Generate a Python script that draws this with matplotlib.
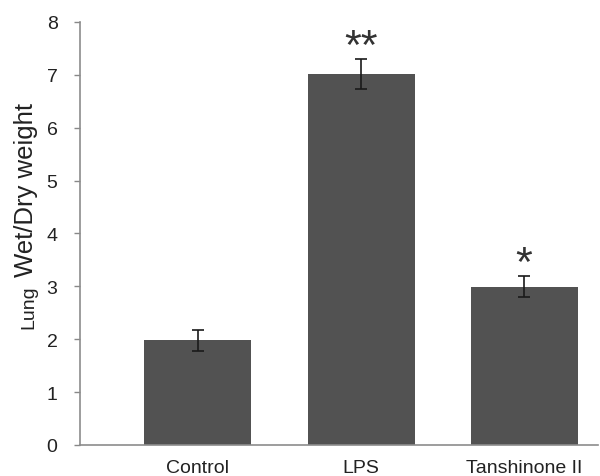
import matplotlib
matplotlib.use('Agg')
import matplotlib.pyplot as plt
import numpy as np

groups = ['Control', 'LPS', 'Tanshinone II']
values = [1.98, 7.01, 2.99]
errors = [0.20, 0.28, 0.20]
marks = ['', '**', '*']

plt.rcParams['font.family'] = ['Liberation Sans', 'DejaVu Sans']

fig = plt.figure(figsize=(6, 4.77), dpi=100)
ax = fig.add_axes([0.133, 0.065, 0.864, 0.887])

x = np.arange(len(groups))
ax.bar(x, values, width=0.656, color='#525252', zorder=2)
ax.errorbar(x, values, yerr=errors, fmt='none', ecolor='#1a1a1a',
            elinewidth=1.2, capsize=4.3, capthick=1.2, zorder=3)

# significance stars above the bars
for xi, v, e, m in zip(x, values, errors, marks):
    if m:
        ax.text(xi, v + e - 0.15, m, ha='center', va='bottom',
                fontsize=31, color='#333333')

ax.set_xlim(-0.724, 2.454)
ax.set_ylim(0, 8)
ax.set_yticks(range(0, 9))
ax.set_xticks(x)
ax.set_xticklabels(groups, fontsize=14)
ax.tick_params(axis='y', labelsize=14, length=4, width=1, color='#888888',
               labelcolor='#222222', pad=12)
ax.tick_params(axis='x', length=0, pad=10, labelcolor='#222222')

for s in ['top', 'right']:
    ax.spines[s].set_visible(False)
for s in ['left', 'bottom']:
    ax.spines[s].set_color('#8c8c8c')
    ax.spines[s].set_linewidth(1.2)

# two-size y label
fig.text(0.055, 0.356, 'Lung', rotation=90, rotation_mode='anchor',
         ha='center', va='baseline', fontsize=14, color='#222222')
fig.text(0.055, 0.602, 'Wet/Dry weight', rotation=90, rotation_mode='anchor',
         ha='center', va='baseline', fontsize=18.5, color='#222222')

fig.savefig('out.png', dpi=100)
